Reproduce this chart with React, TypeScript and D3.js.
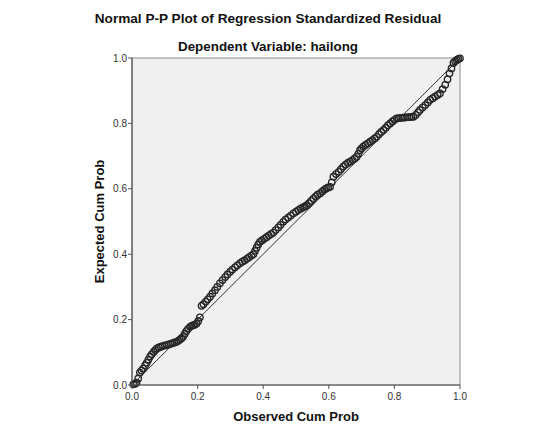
import * as d3 from "d3";

// observed cumulative probability (x) and expected cumulative probability (y)
const observed: number[] = [
  0.004, 0.009, 0.014, 0.019, 0.024, 0.029, 0.034, 0.04, 0.045, 0.05, 0.055, 0.06, 0.066, 0.071, 0.076,
  0.082, 0.088, 0.094, 0.1, 0.106, 0.112, 0.118, 0.124, 0.13, 0.136, 0.141, 0.146, 0.151, 0.156, 0.161,
  0.166, 0.171, 0.177, 0.182, 0.187, 0.192, 0.197, 0.202, 0.207,
  0.212, 0.218, 0.225, 0.231, 0.238, 0.245, 0.253, 0.26, 0.268, 0.276, 0.284, 0.291, 0.299, 0.306, 0.314,
  0.321, 0.329, 0.336, 0.343, 0.35, 0.357, 0.364, 0.37, 0.375, 0.38, 0.385, 0.39,
  0.396, 0.403, 0.41, 0.417, 0.424, 0.431, 0.438, 0.446, 0.453, 0.461, 0.468, 0.476, 0.484, 0.492, 0.5,
  0.507, 0.514, 0.521, 0.527, 0.533, 0.54, 0.546, 0.553, 0.56, 0.566, 0.573, 0.58, 0.586, 0.592, 0.598, 0.604,
  0.609, 0.614, 0.622, 0.63, 0.637, 0.644, 0.651, 0.658, 0.665, 0.672, 0.679, 0.685, 0.69, 0.695, 0.7,
  0.705, 0.712, 0.719, 0.726, 0.733, 0.74, 0.746, 0.753, 0.76, 0.767, 0.774, 0.78, 0.787, 0.794, 0.8, 0.807,
  0.813, 0.82, 0.826, 0.832, 0.839, 0.845, 0.852, 0.858, 0.865, 0.872, 0.878, 0.886, 0.894, 0.902, 0.909,
  0.917, 0.924, 0.932, 0.939, 0.947, 0.955, 0.962, 0.968, 0.974, 0.98, 0.985, 0.99, 0.995, 1.0,
];
const expected: number[] = [
  0.002, 0.004, 0.007, 0.02, 0.038, 0.044, 0.05, 0.06, 0.068, 0.077, 0.087, 0.094, 0.101, 0.107, 0.112,
  0.115, 0.117, 0.119, 0.121, 0.122, 0.124, 0.126, 0.128, 0.13, 0.132, 0.135, 0.139, 0.143, 0.148, 0.157,
  0.165, 0.172, 0.178, 0.181, 0.183, 0.185, 0.188, 0.196, 0.207,
  0.242, 0.247, 0.255, 0.262, 0.27, 0.28, 0.29, 0.3, 0.311, 0.321, 0.33, 0.338, 0.346, 0.353, 0.36,
  0.366, 0.372, 0.377, 0.381, 0.386, 0.391, 0.396, 0.4, 0.41, 0.42, 0.43, 0.438,
  0.442, 0.447, 0.452, 0.457, 0.462, 0.466, 0.474, 0.482, 0.49, 0.499, 0.506, 0.512, 0.518, 0.525, 0.53,
  0.535, 0.539, 0.543, 0.546, 0.55, 0.556, 0.563, 0.57, 0.577, 0.582, 0.586, 0.592, 0.597, 0.601, 0.604, 0.606,
  0.62, 0.637, 0.645, 0.652, 0.66, 0.668, 0.674, 0.679, 0.683, 0.688, 0.693, 0.698, 0.707, 0.718, 0.724,
  0.729, 0.734, 0.739, 0.744, 0.749, 0.754, 0.759, 0.767, 0.774, 0.78, 0.787, 0.794, 0.8, 0.806, 0.811, 0.815,
  0.816, 0.817, 0.818, 0.818, 0.819, 0.819, 0.82, 0.82, 0.826, 0.834, 0.841, 0.849, 0.856, 0.864, 0.872,
  0.877, 0.882, 0.887, 0.892, 0.905, 0.918, 0.935, 0.953, 0.968, 0.985, 0.99, 0.994, 0.997, 0.999,
];
const tickValues: number[] = [0, 0.2, 0.4, 0.6, 0.8, 1.0];

const title = "Normal P-P Plot of Regression Standardized Residual";
const subtitle = "Dependent Variable: hailong";
const xLabel = "Observed Cum Prob";
const yLabel = "Expected Cum Prob";

const width = 546;
const height = 437;
const plot = { left: 132, right: 460, top: 58, bottom: 385 };
const font = "'Liberation Sans', Arial, sans-serif";

export default function App() {
  const x = d3.scaleLinear().domain([0, 1]).range([plot.left, plot.right]);
  const y = d3.scaleLinear().domain([0, 1]).range([plot.bottom, plot.top]);
  const fmt = d3.format(".1f");

  return (
    <svg
      width={width}
      height={height}
      style={{ position: "absolute", left: 0, top: 0, background: "#fff" }}
    >
      <text x={268} y={23} textAnchor="middle" fontFamily={font} fontWeight="bold" fontSize={13.6} fill="#111">
        {title}
      </text>
      <text x={268} y={51} textAnchor="middle" fontFamily={font} fontWeight="bold" fontSize={13.4} fill="#111">
        {subtitle}
      </text>

      {/* plot background + frame */}
      <rect
        x={plot.left}
        y={plot.top}
        width={plot.right - plot.left}
        height={plot.bottom - plot.top}
        fill="#f0f0f0"
        stroke="#8a8a8a"
        strokeWidth={1}
      />

      {/* reference diagonal */}
      <line x1={x(0)} y1={y(0)} x2={x(1)} y2={y(1)} stroke="#333" strokeWidth={1} />

      {/* points */}
      <g fill="none" stroke="#262626" strokeWidth={1.35}>
        {observed.map((o, i) => (
          <circle key={i} cx={x(o)} cy={y(expected[i])} r={3.2} />
        ))}
      </g>

      {/* axes */}
      <line x1={plot.left} y1={plot.top} x2={plot.left} y2={plot.bottom} stroke="#555" strokeWidth={1.2} />
      <line x1={plot.left} y1={plot.bottom} x2={plot.right} y2={plot.bottom} stroke="#555" strokeWidth={1.2} />

      {tickValues.map((t) => (
        <g key={"x" + t}>
          <line x1={x(t)} y1={plot.bottom} x2={x(t)} y2={plot.bottom + 4} stroke="#555" />
          <text x={x(t)} y={plot.bottom + 15} textAnchor="middle" fontFamily={font} fontSize={10} fill="#333">
            {fmt(t)}
          </text>
        </g>
      ))}
      {tickValues.map((t) => (
        <g key={"y" + t}>
          <line x1={plot.left - 4} y1={y(t)} x2={plot.left} y2={y(t)} stroke="#555" />
          <text x={plot.left - 5} y={y(t) + 3.5} textAnchor="end" fontFamily={font} fontSize={10} fill="#333">
            {fmt(t)}
          </text>
        </g>
      ))}

      <text x={296} y={421} textAnchor="middle" fontFamily={font} fontWeight="bold" fontSize={13} fill="#111">
        {xLabel}
      </text>
      <text
        transform={`translate(104,${(plot.top + plot.bottom) / 2}) rotate(-90)`}
        textAnchor="middle"
        fontFamily={font}
        fontWeight="bold"
        fontSize={13}
        fill="#111"
      >
        {yLabel}
      </text>
    </svg>
  );
}
